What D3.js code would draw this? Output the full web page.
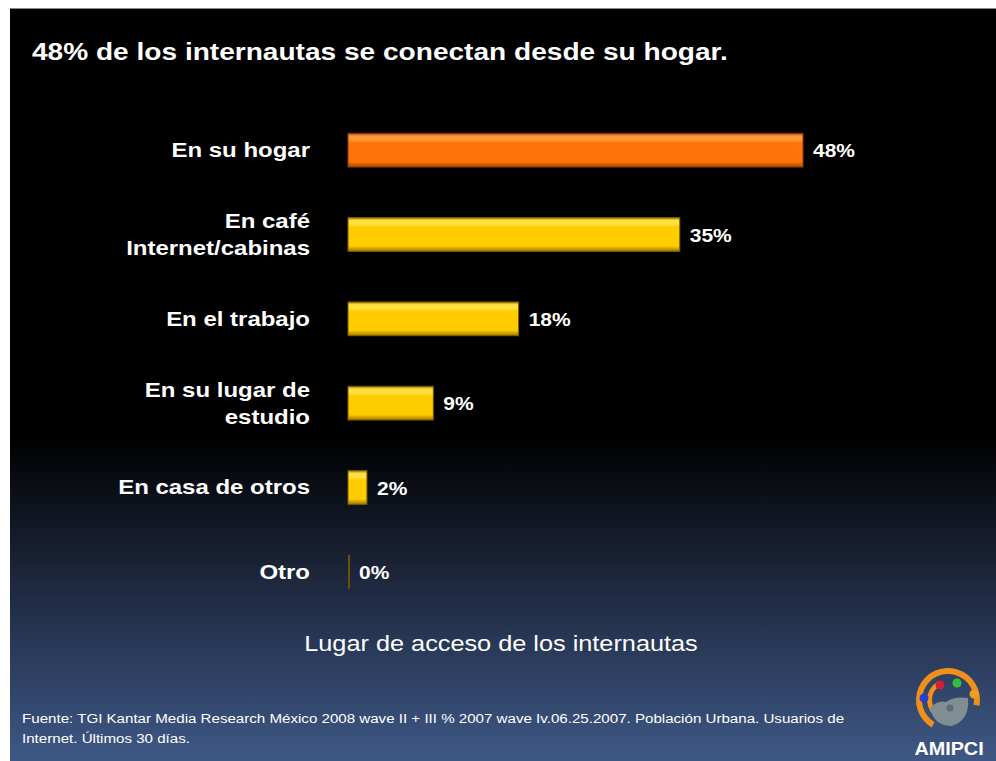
<!DOCTYPE html>
<html>
<head>
<meta charset="utf-8">
<script src="https://cdn.jsdelivr.net/npm/d3@7"></script>
<style>
  html, body { margin: 0; padding: 0; background: #ffffff; }
  svg { display: block; }
  text { font-family: "Liberation Sans", Arial, sans-serif; }
</style>
</head>
<body>
<svg id="chart" width="996" height="761"></svg>
<script>
// Lugar de acceso de los internautas (porcentaje)
const categories = [
  ["En su hogar"],
  ["En café", "Internet/cabinas"],
  ["En el trabajo"],
  ["En su lugar de", "estudio"],
  ["En casa de otros"],
  ["Otro"]
];
const values = [48, 35, 18, 9, 2, 0];
const valueLabels = ["48%", "35%", "18%", "9%", "2%", "0%"];
const highlight = [true, false, false, false, false, false];

const titleText = "48% de los internautas se conectan desde su hogar.";
const subtitleText = "Lugar de acceso de los internautas";
const sourceLines = [
  "Fuente: TGI Kantar Media Research México 2008 wave II + III % 2007 wave Iv.06.25.2007. Población Urbana. Usuarios de",
  "Internet. Últimos 30 días."
];

const svg = d3.select("#chart");
const defs = svg.append("defs");

// slide background: black fading into navy near the bottom
const bg = defs.append("linearGradient").attr("id", "bg").attr("x1", 0).attr("y1", 0).attr("x2", 0).attr("y2", 1);
bg.append("stop").attr("offset", "0%").attr("stop-color", "#000000");
bg.append("stop").attr("offset", "57%").attr("stop-color", "#000000");
bg.append("stop").attr("offset", "75%").attr("stop-color", "#1c253a");
bg.append("stop").attr("offset", "100%").attr("stop-color", "#3e5886");

svg.append("line").attr("x1", 10).attr("x2", 996).attr("y1", 8.5).attr("y2", 8.5)
  .attr("stroke", "#8a8a8a").attr("stroke-width", 1);
svg.append("rect").attr("x", 10).attr("y", 9).attr("width", 986).attr("height", 752).attr("fill", "url(#bg)");

// bevelled bar fills
function barGradient(id, light, mid, dark) {
  const g = defs.append("linearGradient").attr("id", id).attr("x1", 0).attr("y1", 0).attr("x2", 0).attr("y2", 1);
  g.append("stop").attr("offset", "0%").attr("stop-color", dark);
  g.append("stop").attr("offset", "8%").attr("stop-color", light);
  g.append("stop").attr("offset", "20%").attr("stop-color", light);
  g.append("stop").attr("offset", "28%").attr("stop-color", mid);
  g.append("stop").attr("offset", "84%").attr("stop-color", mid);
  g.append("stop").attr("offset", "100%").attr("stop-color", dark);
}
barGradient("gOrange", "#ff9638", "#ff7308", "#a94700");
barGradient("gYellow", "#ffe040", "#ffcc00", "#a07800");

const x = d3.scaleLinear().domain([0, 48]).range([348, 803]);
const y = d3.scaleBand().domain(d3.range(values.length)).range([108, 614]).paddingInner(0.6).paddingOuter(0.3);

// text drawn with a horizontal stretch, anchored at (tx, ty)
function stretched(parent, tx, ty, sx) {
  return parent.append("text").attr("transform", `translate(${tx},${ty}) scale(${sx},1)`);
}

// title
stretched(svg, 32, 60, 1.17)
  .attr("fill", "#ffffff").attr("font-size", 24).attr("font-weight", "bold")
  .text(titleText);

const rows = svg.append("g").selectAll("g").data(values).join("g");

rows.append("rect")
  .attr("x", x(0))
  .attr("y", (d, i) => y(i))
  .attr("width", d => Math.max(x(d) - x(0), 2))
  .attr("height", y.bandwidth())
  .attr("fill", (d, i) => d === 0 ? "#6b5200" : (highlight[i] ? "url(#gOrange)" : "url(#gYellow)"))
  .attr("stroke", (d, i) => highlight[i] ? "#8a3a00" : "#7a5c00")
  .attr("stroke-width", d => d === 0 ? 0 : 1);

rows.each(function(d, i) {
  const g = d3.select(this);
  const cy = y(i) + y.bandwidth() / 2;

  // value label at the bar end
  stretched(g, x(d) + (d === 0 ? 11 : 10), cy + 7, 1.2)
    .attr("fill", "#ffffff").attr("font-size", 17.5).attr("font-weight", "bold")
    .text(valueLabels[i]);

  // category label, right aligned
  const lines = categories[i];
  const lh = 27;
  const t = stretched(g, 310, 0, 1.17)
    .attr("text-anchor", "end").attr("fill", "#ffffff")
    .attr("font-size", 20.5).attr("font-weight", "bold");
  lines.forEach((ln, k) => {
    t.append("tspan").attr("x", 0)
      .attr("y", cy + 7 + (k - (lines.length - 1) / 2) * lh)
      .text(ln);
  });
});

// axis caption
stretched(svg, 501, 651, 1.15).attr("text-anchor", "middle")
  .attr("fill", "#ffffff").attr("font-size", 22).text(subtitleText);

// source note
const src = stretched(svg, 22, 0, 1.21).attr("fill", "#ffffff").attr("font-size", 12.5);
sourceLines.forEach((ln, k) => {
  src.append("tspan").attr("x", 0).attr("y", 723 + k * 20).text(ln);
});

// AMIPCI logo
const logo = svg.append("g").attr("transform", "translate(948,700)");
logo.append("path")
  .attr("d", d3.arc()({innerRadius: 26, outerRadius: 32, startAngle: -2.6, endAngle: 1.75}))
  .attr("fill", "#f0901a");
logo.append("path")
  .attr("d", d3.arc()({innerRadius: 16, outerRadius: 21, startAngle: -2.7, endAngle: -0.5}))
  .attr("fill", "#f0901a");
logo.append("path")
  .attr("d", "M-18,8 Q-10,0 -2,2 Q6,-4 20,-2 Q22,20 4,26 Q-14,26 -18,8 Z")
  .attr("fill", "#7f8e92");
logo.append("circle").attr("cx", 2).attr("cy", 8).attr("r", 3.5).attr("fill", "#5f6b70");
logo.append("circle").attr("cx", -24).attr("cy", -2).attr("r", 4.5).attr("fill", "#2a3fd0");
logo.append("circle").attr("cx", -8).attr("cy", -15).attr("r", 4.5).attr("fill", "#d0203a");
logo.append("circle").attr("cx", 9).attr("cy", -17).attr("r", 4.5).attr("fill", "#34c03a");
logo.append("circle").attr("cx", 26).attr("cy", -6).attr("r", 4.5).attr("fill", "#f39a20");
stretched(svg, 949, 755, 1.1).attr("text-anchor", "middle")
  .attr("fill", "#ffffff").attr("font-size", 18).attr("font-weight", "bold").text("AMIPCI");
</script>
</body>
</html>
